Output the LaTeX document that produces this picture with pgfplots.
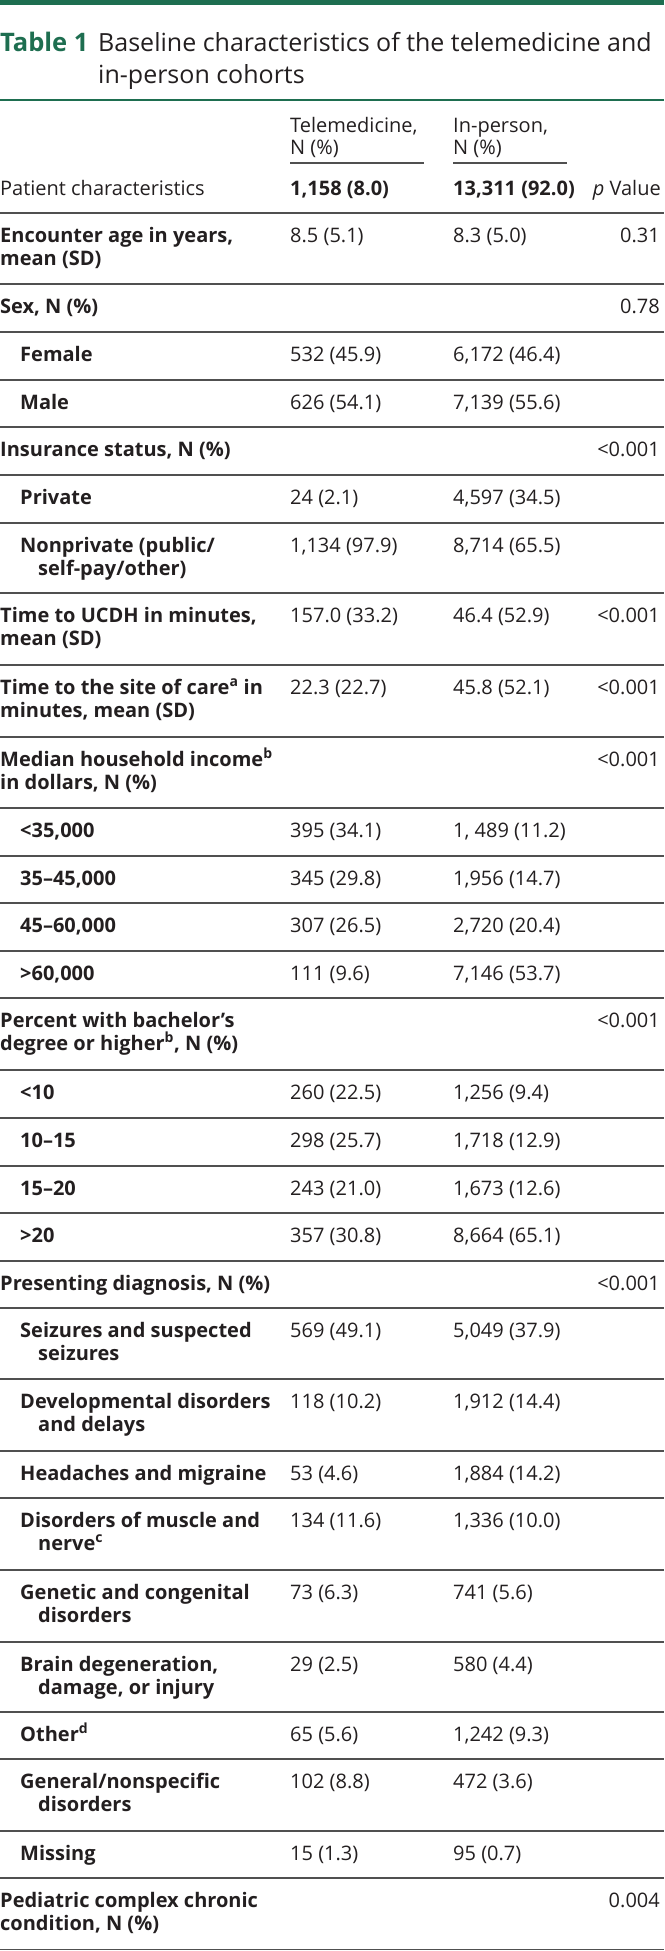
\documentclass[border=0pt]{standalone}
\usepackage{fontspec}
\setmainfont{Open Sans}
\usepackage{pgfplots}
\pgfplotsset{compat=1.18}
\definecolor{nGreen}{RGB}{30,110,80}
\definecolor{txt}{RGB}{35,31,32}
\definecolor{rulec}{RGB}{80,80,80}
\tikzset{
  lab/.style={anchor=base west, inner sep=0pt, text=txt, font=\fontsize{20}{23.5}\selectfont},
  pv/.style={anchor=base east, inner sep=0pt, text=txt, font=\fontsize{20}{23.5}\selectfont},
}
\newcommand{\HRule}[1]{\draw[rulec, line width=1.3pt] (axis cs:0,#1) -- (axis cs:664,#1);}
% single-line row: top, indent, label, tele, inperson, p
\newcommand{\RowS}[6]{%
  \HRule{#1}
  \node[lab] at (axis cs:#2,{#1+29}) {\bfseries #3};
  \node[lab] at (axis cs:290,{#1+29}) {#4};
  \node[lab] at (axis cs:453,{#1+29}) {#5};
  \node[pv] at (axis cs:660,{#1+29}) {#6};
}
% two-line row: top, indent1, indent2, line1, line2, tele, inperson, p
\newcommand{\RowD}[8]{%
  \HRule{#1}
  \node[lab] at (axis cs:#2,{#1+29}) {\bfseries #4};
  \node[lab] at (axis cs:#3,{#1+52.5}) {\bfseries #5};
  \node[lab] at (axis cs:290,{#1+29}) {#6};
  \node[lab] at (axis cs:453,{#1+29}) {#7};
  \node[pv] at (axis cs:660,{#1+29}) {#8};
}
\begin{document}
\begin{tikzpicture}
\begin{axis}[name=ax, width=664pt, height=1951pt, scale only axis,
  xmin=0, xmax=664, ymin=0, ymax=1951, y dir=reverse,
  hide axis, clip=false]
% top green bar and title
\fill[nGreen] (axis cs:0,0) rectangle (axis cs:664,5);
\node[anchor=base west, inner sep=0pt, text=nGreen, font=\fontsize{25.5}{30}\selectfont\bfseries] at (axis cs:0,52) {Table 1};
\node[anchor=base west, inner sep=0pt, text=txt, font=\fontsize{25}{30}\selectfont] at (axis cs:98,52) {Baseline characteristics of the telemedicine and};
\node[anchor=base west, inner sep=0pt, text=txt, font=\fontsize{25}{30}\selectfont] at (axis cs:98,84) {in-person cohorts};
\draw[nGreen, line width=2.5pt] (axis cs:0,100) -- (axis cs:664,100);
% column headers
\node[lab] at (axis cs:290,132) {Telemedicine,};
\node[lab] at (axis cs:290,154) {N (\%)};
\node[lab] at (axis cs:453,132) {In-person,};
\node[lab] at (axis cs:453,154) {N (\%)};
\draw[rulec, line width=1.3pt] (axis cs:290,163) -- (axis cs:424,163);
\draw[rulec, line width=1.3pt] (axis cs:453,163) -- (axis cs:567,163);
\node[lab] at (axis cs:0,195) {Patient characteristics};
\node[lab] at (axis cs:290,195) {\bfseries 1,158 (8.0)};
\node[lab] at (axis cs:453,195) {\bfseries 13,311 (92.0)};
\node[pv] at (axis cs:661,195) {\itshape p\upshape\ Value};
% body
\RowD{213}{0}{0}{Encounter age in years,}{mean (SD)}{8.5 (5.1)}{8.3 (5.0)}{0.31}
\RowS{284}{0}{Sex, N (\%)}{}{}{0.78}
\RowS{332}{20}{Female}{532 (45.9)}{6,172 (46.4)}{}
\RowS{380}{20}{Male}{626 (54.1)}{7,139 (55.6)}{}
\RowS{427}{0}{Insurance status, N (\%)}{}{}{<0.001}
\RowS{475}{20}{Private}{24 (2.1)}{4,597 (34.5)}{}
\RowD{523}{20}{38}{Nonprivate (public/}{self-pay/other)}{1,134 (97.9)}{8,714 (65.5)}{}
\RowD{593}{0}{0}{Time to UCDH in minutes,}{mean (SD)}{157.0 (33.2)}{46.4 (52.9)}{<0.001}
\RowD{665}{0}{0}{Time to the site of care\textsuperscript{a} in}{minutes, mean (SD)}{22.3 (22.7)}{45.8 (52.1)}{<0.001}
\RowD{737}{0}{0}{Median household income\textsuperscript{b}}{in dollars, N (\%)}{}{}{<0.001}
\RowS{808}{20}{<35,000}{395 (34.1)}{1, 489 (11.2)}{}
\RowS{856}{20}{35–45,000}{345 (29.8)}{1,956 (14.7)}{}
\RowS{903}{20}{45–60,000}{307 (26.5)}{2,720 (20.4)}{}
\RowS{951}{20}{>60,000}{111 (9.6)}{7,146 (53.7)}{}
\RowD{998}{0}{0}{Percent with bachelor’s}{degree or higher\textsuperscript{b}, N (\%)}{}{}{<0.001}
\RowS{1070}{20}{<10}{260 (22.5)}{1,256 (9.4)}{}
\RowS{1118}{20}{10–15}{298 (25.7)}{1,718 (12.9)}{}
\RowS{1166}{20}{15–20}{243 (21.0)}{1,673 (12.6)}{}
\RowS{1213}{20}{>20}{357 (30.8)}{8,664 (65.1)}{}
\RowS{1261}{0}{Presenting diagnosis, N (\%)}{}{}{<0.001}
\RowD{1308}{20}{38}{Seizures and suspected}{seizures}{569 (49.1)}{5,049 (37.9)}{}
\RowD{1379}{20}{38}{Developmental disorders}{and delays}{118 (10.2)}{1,912 (14.4)}{}
\RowS{1451}{20}{Headaches and migraine}{53 (4.6)}{1,884 (14.2)}{}
\RowD{1498}{20}{38}{Disorders of muscle and}{nerve\textsuperscript{c}}{134 (11.6)}{1,336 (10.0)}{}
\RowD{1570}{20}{38}{Genetic and congenital}{disorders}{73 (6.3)}{741 (5.6)}{}
\RowD{1642}{20}{38}{Brain degeneration,}{damage, or injury}{29 (2.5)}{580 (4.4)}{}
\RowS{1712}{20}{Other\textsuperscript{d}}{65 (5.6)}{1,242 (9.3)}{}
\RowD{1759}{20}{38}{General/nonspecific}{disorders}{102 (8.8)}{472 (3.6)}{}
\RowS{1831}{20}{Missing}{15 (1.3)}{95 (0.7)}{}
\RowD{1878}{0}{0}{Pediatric complex chronic}{condition, N (\%)}{}{}{0.004}
\HRule{1949.5}
\end{axis}
\pgfresetboundingbox
\path[use as bounding box] (ax.south west) rectangle (ax.north east);
\end{tikzpicture}
\end{document}
